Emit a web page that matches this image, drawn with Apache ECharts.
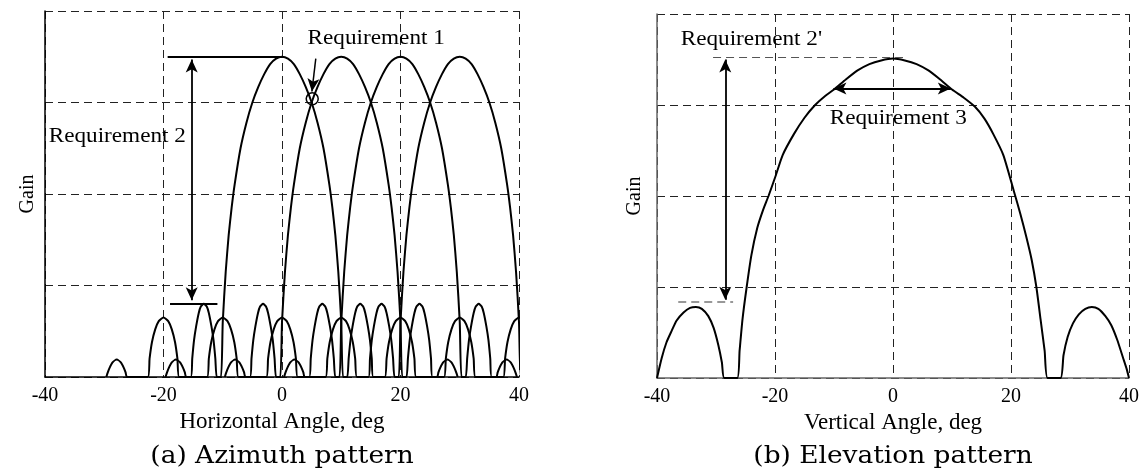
<!DOCTYPE html>
<html><head><meta charset="utf-8">
<script src="https://cdn.jsdelivr.net/npm/echarts@6/dist/echarts.min.js"></script>
<style>html,body{margin:0;padding:0;background:#fff}#c{width:1148px;height:473px}</style>
</head><body><div id="c"></div>
<script>
// ---- data ----
const xTicks = [-40, -20, 0, 20, 40];
const gainTicks = [0, 1, 2, 3, 4];
// azimuth: the same measured beam pattern, steered to each beam centre
const beamCenters = [0, 10, 20, 30];
const azOffset = [-29.65,-29.4,-29.1,-28.6,-27.9,-27.2,-26.7,-26.4,-26.15,
  -22.65,-22.35,-21.95,-21.4,-20.8,-20,-19.2,-18.6,-18.05,-17.65,-17.35,
  -15.4,-15.15,-14.85,-14.5,-14.05,-13.7,-13.2,-12.7,-12.35,-11.9,-11.55,-11.25,-11.0,
  -10.3,-10,-9.5,-9,-8.5,-8,-7,-6,-5,-4,-3,-2,-1,0,1,2,3,4,5,6,7,8,8.5,9,9.5,10,10.3,
  11.0,11.25,11.55,11.9,12.35,12.7,13.2,13.7,14.05,14.5,14.85,15.15,15.4,
  17.35,17.65,18.05,18.6,19.2,20,20.8,21.4,21.95,22.35,22.65,
  26.15,26.4,26.7,27.2,27.9,28.6,29.1,29.4,29.65];
const azGain = [0,0.05,0.1,0.16,0.19,0.16,0.1,0.05,0,
  0,0.2,0.38,0.52,0.61,0.65,0.61,0.52,0.38,0.2,0,
  0,0.2,0.4,0.55,0.7,0.77,0.8,0.77,0.7,0.55,0.4,0.2,0,
  0,0.6,1.15,1.55,1.85,2.1,2.5,2.78,3.0,3.17,3.31,3.42,3.48,3.5,3.48,3.42,3.31,3.17,3.0,2.78,2.5,2.1,1.85,1.55,1.15,0.6,0,
  0,0.2,0.4,0.55,0.7,0.77,0.8,0.77,0.7,0.55,0.4,0.2,0,
  0,0.2,0.38,0.52,0.61,0.65,0.61,0.52,0.38,0.2,0,
  0,0.05,0.1,0.16,0.19,0.16,0.1,0.05,0];
// elevation pattern
const elAngle = [-40,-39.2,-38.4,-37.5,-36.7,-35.5,-34.4,-33.4,-32.4,-31.3,-30.4,-29.6,-29,-28.6,
  -26.4,-26.0,-25.5,-24.8,-24.0,-23.0,-22.0,-21.1,-19.9,-18.7,-16.8,-15,-13.2,-11.5,-10,-8,-6,-4,-2,0,
  2,4,6,8,10,12,13.9,15.5,17,18.7,20.5,21.6,22.6,23.5,24.3,25.0,25.7,26.2,
  28.4,28.9,29.6,30.5,31.5,32.6,33.7,34.8,36,37,38,39,39.6,40];
const elGain = [0,0.22,0.39,0.52,0.63,0.72,0.77,0.78,0.76,0.68,0.55,0.36,0.17,0,
  0,0.3,0.65,1.0,1.35,1.65,1.85,2.0,2.22,2.45,2.68,2.86,3.0,3.1,3.17,3.28,3.38,3.45,3.49,3.51,
  3.49,3.45,3.38,3.28,3.17,3.08,2.98,2.85,2.68,2.45,2.05,1.8,1.55,1.3,1.0,0.65,0.3,0,
  0,0.25,0.45,0.6,0.7,0.76,0.78,0.76,0.68,0.58,0.42,0.22,0.1,0];

// ---- annotations (data coordinates) ----
const azReq2Arrow = [[-15.24, 3.47], [-15.24, 0.84]];
const azReq2Top = [[-19.3, 3.5], [0, 3.5]];
const azReq2Bottom = [[-18.9, 0.8], [-10.9, 0.8]];
const azReq1Arrow = [[5.7, 3.48], [5.05, 3.12]];
const azReq1Circle = [5.1, 3.04];
const azReq1Label = [15.9, 3.7];
const azReq2Label = [-27.8, 2.63];
const elReq2Arrow = [[-28.43, 3.50], [-28.43, 0.86]];
const elReq2Top = [[-30.5, 3.53], [1.7, 3.53]];
const elReq2Bottom = [[-36.4, 0.835], [-27.1, 0.835]];
const elReq3Arrow = [[-10.1, 3.18], [9.8, 3.18]];
const elReq2Label = [-24.0, 3.72];
const elReq3Label = [0.9, 2.85];

const serif = 'Liberation Serif';
const dash = [8, 5];
const chart = echarts.init(document.getElementById('c'), null, {renderer: 'canvas'});

function xAx(i, name, gap, axisColor) {
  return {type: 'value', gridIndex: i, min: xTicks[0], max: xTicks[xTicks.length - 1],
    interval: xTicks[1] - xTicks[0],
    axisLine: {show: true, onZero: false, lineStyle: {color: axisColor, width: 1.5}},
    axisTick: {show: false},
    axisLabel: {color: '#000', fontFamily: serif, fontSize: 20, margin: 9},
    splitLine: {show: true, lineStyle: {color: '#222', type: dash, width: 1}},
    name: name, nameLocation: 'middle', nameGap: gap,
    nameTextStyle: {color: '#000', fontFamily: serif, fontSize: 23}};
}
function yAx(i, gap, axisColor) {
  return {type: 'value', gridIndex: i, min: gainTicks[0], max: gainTicks[gainTicks.length - 1],
    interval: gainTicks[1] - gainTicks[0],
    axisLine: {show: true, onZero: false, lineStyle: {color: axisColor, width: 1.5}},
    axisTick: {show: false}, axisLabel: {show: false},
    splitLine: {show: true, lineStyle: {color: '#222', type: dash, width: 1}},
    name: 'Gain', nameLocation: 'middle', nameGap: gap,
    nameTextStyle: {color: '#000', fontFamily: serif, fontSize: 20}};
}
function seg(pts, sym, color, type, width) {
  return [{coord: pts[0], symbol: sym[0]}, {coord: pts[1], symbol: sym[1]}].map(function (p) {
    return Object.assign(p, {lineStyle: {color: color, type: type, width: width}});
  });
}

const beamSeries = beamCenters.map(function (c) {
  return {type: 'line', xAxisIndex: 0, yAxisIndex: 0, showSymbol: false, smooth: 0.2, clip: true,
    lineStyle: {color: '#000', width: 2}, silent: true,
    data: azOffset.map(function (o, k) { return [c + o, azGain[k]]; })};
});

const option = {
  animation: false,
  backgroundColor: '#fff',
  grid: [
    {left: 45, right: 629, top: 11, bottom: 96},
    {left: 657, right: 19, top: 14, bottom: 95}
  ],
  xAxis: [xAx(0, 'Horizontal Angle, deg', 31, '#000'), xAx(1, 'Vertical Angle, deg', 25, '#666')],
  yAxis: [yAx(0, 7, '#000'), yAx(1, 12, '#666')],
  series: beamSeries.concat([
    {type: 'line', xAxisIndex: 0, yAxisIndex: 0, data: [], silent: true,
      markLine: {silent: true, symbolSize: [9, 13], label: {show: false},
        data: [
          seg(azReq2Arrow, ['arrow', 'arrow'], '#000', 'solid', 1.8),
          seg(azReq2Top, ['none', 'none'], '#000', 'solid', 1.8),
          seg(azReq2Bottom, ['none', 'none'], '#000', 'solid', 1.8),
          seg(azReq1Arrow, ['none', 'arrow'], '#000', 'solid', 1.5)
        ]},
      markPoint: {silent: true, symbol: 'circle', symbolSize: 12, label: {show: false},
        itemStyle: {color: 'rgba(0,0,0,0)', borderColor: '#000', borderWidth: 1.5},
        data: [{coord: azReq1Circle}]}
    },
    {type: 'line', xAxisIndex: 1, yAxisIndex: 1, showSymbol: false, smooth: 0.2, clip: true, silent: true,
      lineStyle: {color: '#000', width: 2},
      data: elAngle.map(function (a, k) { return [a, elGain[k]]; }),
      markLine: {silent: true, symbolSize: [9, 13], label: {show: false},
        data: [
          seg(elReq2Arrow, ['arrow', 'arrow'], '#000', 'solid', 1.8),
          seg(elReq2Top, ['none', 'none'], '#555', dash, 1),
          seg(elReq2Bottom, ['none', 'none'], '#777', dash, 1.5),
          seg(elReq3Arrow, ['arrow', 'arrow'], '#000', 'solid', 1.8)
        ]}
    }
  ])
};
chart.setOption(option);

function label(grid, pt, text) {
  const p = chart.convertToPixel({gridIndex: grid}, pt);
  return {type: 'text', x: p[0], y: p[1], scaleX: 1.16, silent: true,
    style: {text: text, fill: '#000', font: '20px "Liberation Serif"', align: 'center', verticalAlign: 'middle'}};
}
function caption(grid, text) {
  const p = chart.convertToPixel({gridIndex: grid}, [0, 0]);
  return {type: 'text', x: p[0], y: 457, scaleX: 1.1, silent: true,
    style: {text: text, fill: '#000', font: '24px "DejaVu Serif"', align: 'center', verticalAlign: 'middle'}};
}
chart.setOption({graphic: [
  label(0, azReq1Label, 'Requirement 1'),
  label(0, azReq2Label, 'Requirement 2'),
  label(1, elReq2Label, "Requirement 2'"),
  label(1, elReq3Label, 'Requirement 3'),
  caption(0, '(a) Azimuth pattern'),
  caption(1, '(b) Elevation pattern')
]});
</script></body></html>
